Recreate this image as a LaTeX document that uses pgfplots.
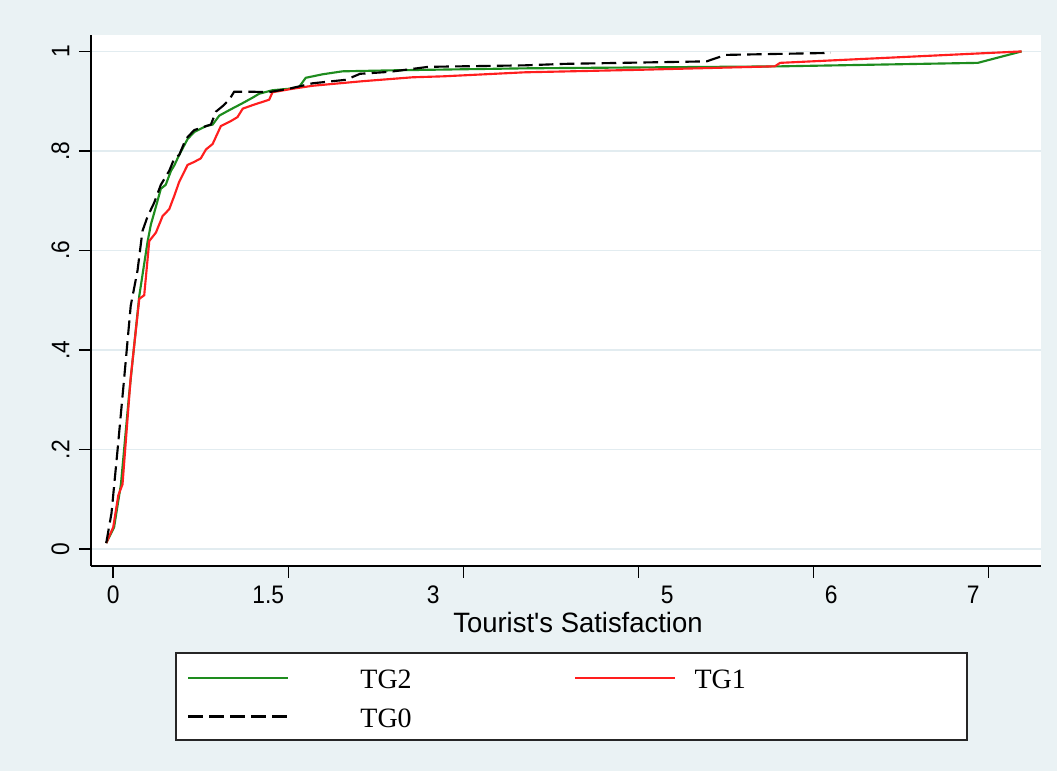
\documentclass[border=0pt]{standalone}
\usepackage{pgfplots}
\pgfplotsset{compat=1.18}
\usepackage{fontspec}
\setmainfont{Liberation Serif}
\newfontfamily\axfont[FakeStretch=0.9]{Liberation Sans}
\newfontfamily\labfont[FakeStretch=0.98]{Liberation Sans}
\definecolor{bgblue}{RGB}{234,242,244}
\definecolor{gridc}{RGB}{226,236,240}
\definecolor{tggreen}{RGB}{30,140,30}
\definecolor{tgred}{RGB}{255,30,30}
\newcommand{\shl}[2]{\makebox[0pt][c]{\hspace*{#1}#2}}
\begin{document}
\begin{tikzpicture}
\useasboundingbox (0pt,0pt) rectangle (792.75pt,578.25pt);
\fill[bgblue] (0pt,0pt) rectangle (792.75pt,578.25pt);
\filldraw[fill=white,draw=black!85,line width=1.3pt] (132pt,23.25pt) rectangle (725.25pt,88.5pt);
\begin{axis}[
  at={(68.25pt,153.75pt)}, anchor=south west, scale only axis,
  width=712.5pt, height=398.25pt,
  xmin=-0.127, xmax=5.301, ymin=-0.034, ymax=1.033,
  axis background/.style={fill=white},
  axis x line*=bottom, axis y line*=left,
  axis line style={line width=1.1pt,-,black},
  xtick={0,1,2,3,4,5},
  xticklabels={0,\shl{-30pt}{1.5},\shl{-45pt}{3},\shl{43.5pt}{5},\shl{27pt}{6},\shl{-22.5pt}{7}},
  ytick={0,0.2,0.4,0.6,0.8,1},
  yticklabels={0,.2,.4,.6,.8,1},
  tick align=outside, major tick length=9pt,
  tick style={line width=1.1pt,black},
  ymajorgrids, grid style={gridc,line width=1pt},
  xticklabel shift=6pt, yticklabel shift=7pt,
  xticklabel style={font=\axfont\fontsize{19}{22}\selectfont, anchor=north, inner sep=0pt},
  yticklabel style={font=\axfont\fontsize{19}{22}\selectfont, rotate=90, anchor=south, inner sep=0pt},
  xlabel={Tourist's Satisfaction},
  xlabel style={at={(axis description cs:0.5126,-0.0866)}, anchor=north, inner sep=0pt,
                font=\labfont\fontsize{21}{25}\selectfont},
  legend style={draw=none, fill=none, at={(axis description cs:0.10105,-0.1962)},
                anchor=north west, legend columns=2,
                font=\fontsize{21}{25}\selectfont, inner sep=0pt,
                /tikz/column sep=0pt, /tikz/row sep=13.7pt, nodes={inner sep=0pt}},
  legend cell align=left,
  legend image code/.code={\draw[#1] (0pt,2.25pt) -- (75pt,2.25pt);},
]
\addplot[tggreen, line width=1.6pt] coordinates {
(-0.04,0.012) (0.005,0.044) (0.044,0.13) (0.09,0.308) (0.149,0.509) (0.196,0.617)
(0.215,0.652) (0.244,0.688) (0.272,0.724) (0.30,0.732) (0.33,0.76) (0.349,0.771)
(0.377,0.792) (0.425,0.824) (0.463,0.838) (0.53,0.85) (0.568,0.853) (0.606,0.871)
(0.663,0.882) (0.739,0.896) (0.796,0.907) (0.834,0.915) (0.91,0.922) (1.005,0.925)
(1.063,0.929) (1.1,0.947) (1.196,0.954) (1.31,0.96) (1.6,0.962) (2.35,0.966)
(3.81,0.97) (4.94,0.977) (5.19,1.0)
};
\addlegendentry{\makebox[213.75pt][l]{\hspace*{53.25pt}TG2}}
\addplot[tgred, line width=1.6pt] coordinates {
(-0.04,0.012) (0.0,0.044) (0.029,0.108) (0.053,0.13) (0.10,0.345) (0.149,0.503)
(0.177,0.51) (0.206,0.619) (0.244,0.636) (0.282,0.669) (0.32,0.683) (0.349,0.71)
(0.377,0.738) (0.425,0.772) (0.463,0.778) (0.5,0.785) (0.53,0.803) (0.568,0.814)
(0.615,0.85) (0.672,0.86) (0.71,0.868) (0.74,0.885) (0.796,0.892) (0.891,0.903)
(0.91,0.918) (1.025,0.925) (1.14,0.931) (1.42,0.94) (1.71,0.948) (1.89,0.95)
(2.35,0.958) (3.0,0.963) (3.78,0.97) (3.81,0.977) (5.19,1.0)
};
\addlegendentry{\hspace*{13.5pt}TG1}
\addplot[black, line width=1.6pt, dash pattern=on 11pt off 4.7pt] coordinates {
(-0.04,0.012) (-0.01,0.072) (0.025,0.2) (0.063,0.345) (0.10,0.489) (0.139,0.56)
(0.167,0.639) (0.196,0.668) (0.234,0.696) (0.272,0.732) (0.32,0.76) (0.349,0.785)
(0.377,0.792) (0.415,0.824) (0.463,0.842) (0.558,0.853) (0.587,0.879) (0.625,0.89)
(0.663,0.903) (0.691,0.919) (0.796,0.919) (0.887,0.918) (1.005,0.925) (1.14,0.936)
(1.33,0.943) (1.41,0.955) (1.58,0.959) (1.8,0.969) (2.35,0.972) (2.58,0.975)
(3.39,0.98) (3.5,0.993) (4.1,0.997)
};
\addlegendentry{\makebox[213.75pt][l]{\hspace*{53.25pt}TG0}}
\end{axis}
\end{tikzpicture}
\end{document}
